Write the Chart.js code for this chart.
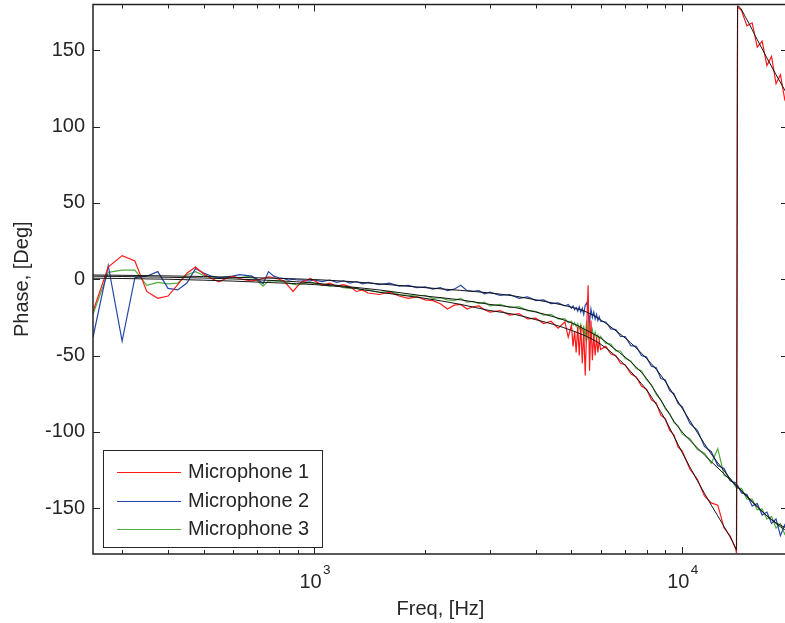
<!DOCTYPE html>
<html>
<head>
<meta charset="utf-8">
<script src="https://cdn.jsdelivr.net/npm/chart.js@4.4.1/dist/chart.umd.min.js"></script>
<style>
  html, body { margin: 0; padding: 0; background: #fff; overflow: hidden; }
  #wrap { width: 785px; height: 623px; overflow: hidden; position: relative; }
  canvas { display: block; }
</style>
</head>
<body>
<div id="wrap"><canvas id="phaseChart" width="800" height="623"></canvas></div>
<script>
// phase response of three microphones

// measured frequencies [Hz]
const FREQS = [
  250, 275, 300, 325, 350, 375, 400, 425, 450, 475,
  500, 525, 550, 575, 600, 625, 650, 675, 700, 725,
  750, 775, 800, 825, 850, 875, 900, 925, 950, 975,
  1000, 1050, 1100, 1150, 1200, 1250, 1300, 1350, 1400, 1500,
  1600, 1700, 1800, 1900, 2000, 2100, 2200, 2300, 2400, 2500,
  2600, 2700, 2800, 2900, 3000, 3200, 3400, 3600, 3800, 4000,
  4200, 4400, 4600, 4800, 4900, 5000, 5050, 5100, 5150, 5200,
  5250, 5300, 5350, 5400, 5450, 5500, 5550, 5600, 5650, 5700,
  5750, 5800, 5850, 5900, 5950, 6000, 6200, 6400, 6600, 6800,
  7000, 7250, 7500, 7750, 8000, 8250, 8500, 8750, 9000, 9250,
  9500, 9750, 10000, 10500, 11000, 11500, 12000, 12500, 13000, 13500,
  14000, 14050, 14150, 14500, 15000, 15500, 16000, 16500, 17000, 17500,
  18000, 18500, 19000, 19400
];

// measured phase [deg]
const MIC1 = [
  -21, 8, 15.5, 12, -8, -12.5, -11, -3.5, 4, 8,
  3.5, 0.5, -1.7, 0.5, 2, 0.5, -0.5, -1, -0.5, 0.5,
  1.5, 1, 0, -1, -4.5, -8, -4.5, -1.5, -1, 0.5,
  -1, -4, -2.5, -4.5, -3.5, -5, -8, -7, -9, -10,
  -8.5, -11, -12.5, -11.5, -13.5, -14, -16, -19.5, -17, -16.5,
  -19.5, -18, -17.5, -20, -21.5, -20.5, -23.5, -22.5, -26, -25.5,
  -29, -27.5, -32, -28, -38, -30, -44, -34, -48, -31,
  -50, -30, -55, -33, -63, -33, -4, -60, -27, -53,
  -36, -50, -38, -48, -40, -46, -44, -49, -50, -55,
  -56, -62, -64, -70, -72, -79, -81, -89, -91.5, -99,
  -102, -110, -112.5, -124.5, -131, -142, -146.5, -148, -163, -168,
  -177, -179.5, 178.5, 176, 166, 168, 152, 156, 140, 146,
  128, 134, 118, 124
];
const MIC2 = [
  -38, 9, -40.5, 1, 2, 5, -6, -7, -2.5, 7,
  4, 2, 1, 1.5, 2, 3, 2.5, 2, 0, -3,
  5, 2, 1, 0.5, -0.5, 0, -0.5, -0.5, -1, -1,
  -0.5, -1.5, -0.5, -2, -1, -2.5, -1.5, -3, -2, -3.5,
  -2.5, -4.5, -4, -5.5, -5, -6.5, -5.5, -7.5, -6.5, -4,
  -7.5, -8, -7.5, -9.5, -8.5, -10.5, -10, -12.5, -11.5, -14,
  -13.5, -16, -15.5, -17.5, -16.5, -19, -17.5, -20, -18.5, -21,
  -18, -21.5, -19, -23, -17, -15.5, -20, -28, -19.5, -25,
  -21.5, -26, -23, -27, -24.5, -27.5, -28, -32.5, -33, -37.5,
  -37.5, -43.5, -44, -50, -51, -57, -58, -65, -66, -73,
  -75, -81.5, -83.5, -94.5, -99, -109.5, -113, -122, -124, -132,
  -133.5, -136.5, -135, -140, -141, -148.5, -147, -154.5, -152.5, -160,
  -157, -168, -161, -166
];
const MIC3 = [
  -23, 4.5, 6, 6, -4, -2, -3, -2.5, 3, 5,
  2.5, 1.5, 1, 1, 1, 1, 1.5, 2, -1, -4.5,
  -1, -1, -1.2, -1.7, -2.5, -3.2, -3.9, -3, -2.5, -2,
  -2.5, -3.5, -4.5, -4, -5.5, -6, -5.5, -7.5, -7, -8.5,
  -8, -10, -10.5, -11, -10.5, -12.5, -12, -13.5, -14, -12.5,
  -15, -14.5, -16, -15, -17.5, -16.5, -18.5, -18, -20.5, -21,
  -23.5, -23, -26, -26, -28.5, -27.5, -30, -28.5, -31, -29,
  -32.5, -29.5, -34, -31, -38, -27, -40, -30, -38, -33,
  -38.5, -34.5, -38.5, -36.5, -39.5, -37.5, -42, -42.5, -47, -47,
  -52, -53.5, -58.5, -60, -66, -69, -75.5, -79, -85, -88,
  -94, -96, -101.5, -104.5, -111.5, -114, -120.5, -111, -128.5, -130.5,
  -136, -134.5, -137, -137, -144, -144, -151, -150.5, -157, -155.5,
  -163, -160, -167, -163
];

// fitted curves
const FIT_FREQS = [
  250, 300, 400, 500, 600, 800, 1000, 1250, 1500, 2000,
  2500, 3000, 3500, 4000, 4500, 5000, 5500, 6000, 6500, 7000,
  7500, 8000, 8500, 9000, 9500, 10000, 11000, 12000, 13000, 14000,
  14050, 14150, 15000, 16000, 17000, 18000, 19000, 19400
];
const FIT1 = [
  0.7, 0.5, 0, -0.6, -1.2, -2.4, -3.5, -5.5, -8.5, -12.5,
  -16.5, -20.5, -23, -26.5, -29.8, -33.5, -37.5, -42.5, -49, -56.5,
  -64.5, -72.5, -82, -92, -103, -113.5, -132, -148, -162, -176.5,
  -177.5, 179, 170, 157, 145, 134, 124, 120
];
const FIT2 = [
  2.8, 2.6, 2.2, 1.8, 1.3, 0.6, -0.2, -1.5, -3, -5.5,
  -7.3, -9, -11, -13.5, -15.8, -18.3, -21.5, -26.5, -32.5, -38.5,
  -45, -52, -59, -67, -76, -84.5, -100.5, -114.5, -125.5, -135,
  -135.3, -136, -142.5, -149, -155, -159.5, -162.5, -163.5
];
const FIT3 = [
  2, 1.8, 1.3, 0.8, 0.2, -1, -2.5, -5, -7, -11,
  -13.5, -16.5, -18.5, -21.5, -24.8, -28.5, -33.5, -38.5, -45, -51,
  -57.5, -65, -74.5, -84, -93, -100, -110.5, -119.5, -127.5, -135,
  -135.3, -136, -142, -149, -155, -160, -164, -165
];

// axes
const Y_TICKS = [-150, -100, -50, 0, 50, 100, 150];
const X_MAJOR = [1000, 10000];
const X_MAJOR_EXP = ['3', '4'];
const X_MINOR = [300, 400, 500, 600, 700, 800, 900, 2000, 3000, 4000, 5000, 6000, 7000, 8000, 9000];

const SERIES_LABELS = ['Microphone 1', 'Microphone 2', 'Microphone 3'];
const SERIES_COLORS = ['#ff1a1a', '#2446a8', '#4fae3f'];

const FONT = "'Liberation Sans', Arial, sans-serif";
const TEXT_COLOR = '#262626';

function toPoints(xs, ys) {
  return xs.map((x, i) => ({ x: x, y: ys[i] }));
}

// box, inward ticks and 10^n labels
const framePlugin = {
  id: 'frame',
  afterDatasetsDraw(chart) {
    const { ctx, chartArea: a, scales: { x, y } } = chart;
    ctx.save();
    ctx.strokeStyle = '#222';
    ctx.lineWidth = 1.5;
    ctx.strokeRect(a.left, a.top, a.right - a.left, a.bottom - a.top);

    ctx.lineWidth = 1;
    ctx.beginPath();
    Y_TICKS.forEach(v => {
      const py = Math.round(y.getPixelForValue(v)) + 0.5;
      ctx.moveTo(a.left, py); ctx.lineTo(a.left + 7, py);
      ctx.moveTo(a.right, py); ctx.lineTo(a.right - 7, py);
    });
    const xTick = (v, len) => {
      const px = Math.round(x.getPixelForValue(v)) + 0.5;
      ctx.moveTo(px, a.bottom); ctx.lineTo(px, a.bottom - len);
      ctx.moveTo(px, a.top); ctx.lineTo(px, a.top + len);
    };
    X_MAJOR.forEach(v => xTick(v, 7));
    X_MINOR.forEach(v => xTick(v, 4));
    ctx.stroke();

    ctx.fillStyle = TEXT_COLOR;
    ctx.textAlign = 'left';
    ctx.textBaseline = 'alphabetic';
    X_MAJOR.forEach((v, i) => {
      const px = x.getPixelForValue(v);
      ctx.font = `20px ${FONT}`;
      ctx.fillText('10', px - 15, a.bottom + 34);
      ctx.font = `13.5px ${FONT}`;
      ctx.fillText(X_MAJOR_EXP[i], px + 8.5, a.bottom + 20);
    });
    ctx.restore();
  }
};

// legend box inside the axes, lower left
const legendPlugin = {
  id: 'boxLegend',
  afterDraw(chart) {
    const { ctx, chartArea: a } = chart;
    const bx = a.left + 10, by = a.bottom - 104, bw = 219, bh = 97;
    ctx.save();
    ctx.fillStyle = '#fff';
    ctx.fillRect(bx, by, bw, bh);
    ctx.strokeStyle = '#262626';
    ctx.lineWidth = 1;
    ctx.strokeRect(bx + 0.5, by + 0.5, bw, bh);
    ctx.font = `20px ${FONT}`;
    ctx.textBaseline = 'middle';
    ctx.textAlign = 'left';
    SERIES_LABELS.forEach((label, i) => {
      const ry = Math.round(by + 22 + i * 28.5) + 0.5;
      ctx.strokeStyle = SERIES_COLORS[i];
      ctx.beginPath();
      ctx.moveTo(bx + 14, ry);
      ctx.lineTo(bx + 78, ry);
      ctx.stroke();
      ctx.fillStyle = TEXT_COLOR;
      ctx.fillText(label, bx + 85, ry);
    });
    ctx.restore();
  }
};

document.addEventListener('DOMContentLoaded', function () {
  const ctx = document.getElementById('phaseChart').getContext('2d');

  const measured = [MIC1, MIC2, MIC3].map((vals, i) => ({
    label: SERIES_LABELS[i],
    data: toPoints(FREQS, vals),
    borderColor: SERIES_COLORS[i],
    borderWidth: 1.2,
    pointRadius: 0,
    tension: 0,
    order: 1
  }));
  const fits = [FIT1, FIT2, FIT3].map(vals => ({
    label: '',
    data: toPoints(FIT_FREQS, vals),
    borderColor: '#151515',
    borderWidth: 1,
    pointRadius: 0,
    cubicInterpolationMode: 'monotone',
    order: 0
  }));

  new Chart(ctx, {
    type: 'line',
    data: { datasets: measured.concat(fits) },
    options: {
      responsive: false,
      animation: false,
      devicePixelRatio: 1,
      layout: { padding: { top: 4.5, right: 12, left: 0, bottom: 0 } },
      plugins: {
        legend: { display: false },
        tooltip: { enabled: false }
      },
      scales: {
        x: {
          type: 'logarithmic',
          min: 250,
          max: 19400,
          afterBuildTicks: s => { s.ticks = X_MAJOR.map(v => ({ value: v })); },
          afterFit: s => { s.height = 69; s.paddingLeft = 0; s.paddingRight = 0; },
          ticks: { display: false },
          grid: { display: false, drawTicks: false },
          border: { display: false },
          title: {
            display: true,
            text: 'Freq, [Hz]',
            color: TEXT_COLOR,
            font: { family: FONT, size: 20 },
            padding: { top: 0, bottom: 2 }
          }
        },
        y: {
          type: 'linear',
          min: -180,
          max: 180,
          afterBuildTicks: s => { s.ticks = Y_TICKS.map(v => ({ value: v })); },
          afterFit: s => { s.width = 93; s.paddingTop = 0; s.paddingBottom = 0; },
          ticks: {
            color: TEXT_COLOR,
            font: { family: FONT, size: 20 },
            padding: 8
          },
          grid: { display: false, drawTicks: false },
          border: { display: false },
          title: {
            display: true,
            text: 'Phase, [Deg]',
            color: TEXT_COLOR,
            font: { family: FONT, size: 20 },
            padding: { top: 10, bottom: 0 }
          }
        }
      }
    },
    plugins: [framePlugin, legendPlugin]
  });
});
</script>
</body>
</html>
